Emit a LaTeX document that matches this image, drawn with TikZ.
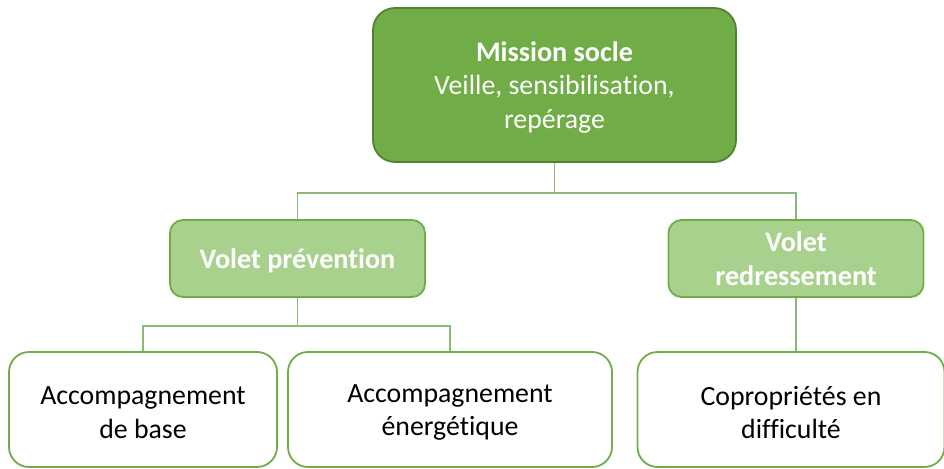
\documentclass[tikz,border=0pt]{standalone}
\usepackage{fontspec}
\setmainfont{Carlito}[Ligatures=NoCommon]
\usetikzlibrary{calc}
\definecolor{dkgreen}{HTML}{70AD47}
\definecolor{dkborder}{HTML}{548235}
\definecolor{ltgreen}{HTML}{A9D18E}
\definecolor{ltborder}{HTML}{70AD47}
\definecolor{linegreen}{HTML}{8CB878}
\begin{document}
\begin{tikzpicture}[x=1pt,y=-1pt,
  basebox/.style={line width=1.8pt, inner sep=0pt},
  topbox/.style={basebox, rounded corners=22pt, fill=dkgreen, draw=dkborder,
    minimum width=363pt, minimum height=154pt},
  midbox/.style={basebox, rounded corners=13pt, fill=ltgreen, draw=ltborder,
    minimum width=255pt, minimum height=77pt},
  lowbox/.style={basebox, rounded corners=20pt, fill=white, draw=ltborder,
    minimum height=115pt},
  txt/.style={align=center, inner sep=0pt, font=\fontsize{27.8}{33.5}\selectfont},
  wtxt/.style={txt, text=white},
  btxt/.style={txt, text=white, font=\fontsize{28.2}{33.5}\selectfont\bfseries},
  link/.style={draw=linegreen, line width=1.3pt}
]
\useasboundingbox (0,0) rectangle (944,468);
\node[topbox] (top) at (554.5,85) {};
\node[midbox] (prev) at (297.5,258.5) {};
\node[midbox] (redr) at (796,258.5) {};
\node[lowbox, minimum width=268pt] (base) at (143,409.5) {};
\node[lowbox, minimum width=324pt] (ener) at (450,409.5) {};
\node[lowbox, minimum width=307pt] (copro) at (791,409.5) {};
\node[wtxt] (topT) at ($(top.center)+(0,2)$) {{\fontsize{28.2}{33.5}\selectfont\bfseries Mission socle}\\Veille, sensibilisation,\\repérage};
\node[btxt] (prevT) at ($(prev.center)+(0,2)$) {Volet prévention};
\node[btxt] (redrT) at ($(redr.center)+(0,0)$) {Volet\\redressement};
\node[txt] (baseT) at ($(base.center)+(0,3)$) {Accompagnement\\de base};
\node[txt] (enerT) at ($(ener.center)+(0,3)$) {Accompagnement\\énergétique};
\node[txt] (coproT) at ($(copro.center)+(0,3)$) {Copropriétés en\\difficulté};
\coordinate (j1) at ($(top.south)+(0,30)$);
\draw[link] (top.south) -- (j1) -| (prev.north);
\draw[link] (j1) -| (redr.north);
\coordinate (j2) at ($(prev.south)+(0,28)$);
\draw[link] (prev.south) -- (j2) -| (base.north);
\draw[link] (j2) -| (ener.north);
\draw[link] (redr.south) -- (redr.south |- copro.north);
\end{tikzpicture}
\end{document}
